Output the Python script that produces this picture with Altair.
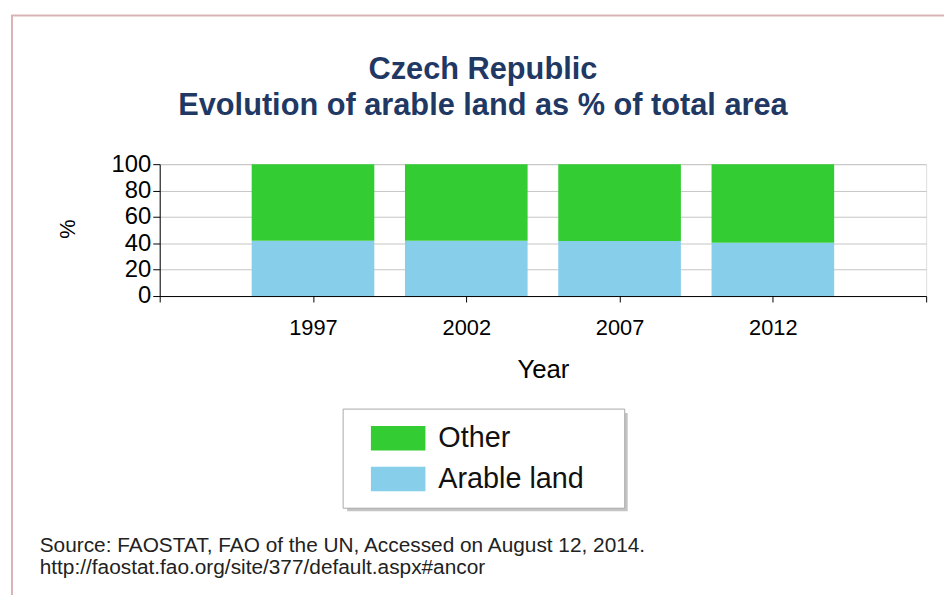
import altair as alt
import pandas as pd

years = [1997, 2002, 2007, 2012]
arable = [42.0, 42.0, 41.7, 40.5]
other = [58.0, 58.0, 58.3, 59.5]
series = ["Other", "Arable land"]
colors = ["#33CC33", "#87CEEB"]
x_ticks = [1992, 1997, 2002, 2007, 2012, 2017]
y_ticks = [0, 20, 40, 60, 80, 100]
title_lines = ["Czech Republic", "Evolution of arable land as % of total area"]
source_lines = ["Source: FAOSTAT, FAO of the UN, Accessed on August 12, 2014.",
                "http://faostat.fao.org/site/377/default.aspx#ancor"]

rows = []
for yr, a, o in zip(years, arable, other):
    rows.append({"Year": yr, "Series": "Arable land", "lo": 0, "hi": a, "ord": 0})
    rows.append({"Year": yr, "Series": "Other", "lo": a, "hi": a + o, "ord": 1})
df = pd.DataFrame(rows)

FONT = "Liberation Sans"

bars = alt.Chart(df).transform_calculate(
    x0="datum.Year - 2", x1="datum.Year + 2"
).mark_bar().encode(
    x=alt.X("x0:Q", scale=alt.Scale(domain=[1992, 2017], nice=False, zero=False),
            axis=alt.Axis(values=x_ticks, title="Year", grid=False,
                          labelExpr="(datum.value == 1992 || datum.value == 2017) ? '' : datum.value",
                          labelFontSize=22, titleFontSize=26, tickSize=6, labelPadding=16,
                          titlePadding=18, titleFontWeight="normal",
                          domainColor="#000", tickColor="#000", labelColor="#000", titleColor="#000",
                          labelFont=FONT, titleFont=FONT, format="d")),
    x2="x1:Q",
    y=alt.Y("lo:Q", scale=alt.Scale(domain=[0, 100], nice=False),
            axis=alt.Axis(values=y_ticks, title="%", grid=True, gridColor="#c4c4c4",
                          labelFontSize=24, titleFontSize=22, tickSize=7, labelPadding=2,
                          titleFontWeight="normal", titleX=-93, titleY=65, titleAngle=-90,
                          titleBaseline="middle", titleAlign="center",
                          domainColor="#000", tickColor="#000", labelColor="#000", titleColor="#000",
                          labelFont=FONT, titleFont=FONT)),
    y2="hi:Q",
    color=alt.Color("Series:N", scale=alt.Scale(domain=series, range=colors),
                    legend=alt.Legend(title=None, orient="none", legendX=188, legendY=247,
                                      symbolType="M-2,-0.9H2V0.9H-2Z", symbolSize=756,
                                      symbolStrokeWidth=0, labelFontSize=29, labelFont=FONT,
                                      labelColor="#111", padding=15, rowPadding=11,
                                      symbolOffset=23, labelOffset=26,
                                      strokeColor="transparent", fillColor="transparent",
                                      labelLimit=400)),
    order="ord:Q",
)

tdf = pd.DataFrame({"line": title_lines, "i": [0, 1]})
title = alt.Chart(tdf).mark_text(align="center", baseline="middle", fontSize=31, font=FONT,
                                 fontWeight="bold", color="#1f3864").encode(
    x=alt.value(326),
    y=alt.Y("i:Q", scale=alt.Scale(domain=[0, 1], range=[-95, -59]), axis=None),
    text="line:N",
)

src = pd.DataFrame({"line": source_lines, "i": [0, 1]})
source = alt.Chart(src).mark_text(align="left", baseline="middle", fontSize=21, font=FONT,
                                  color="#222222").encode(
    x=alt.value(-121),
    y=alt.Y("i:Q", scale=alt.Scale(domain=[0, 1], range=[385, 407]), axis=None),
    text="line:N",
)

deco = pd.DataFrame({"a": [0]})
border = alt.Chart(deco).mark_rect(fill=None, stroke="#d9b3b3", strokeWidth=2).encode(
    x=alt.value(-149), x2=alt.value(900), y=alt.value(-150), y2=alt.value(900))
shadow = alt.Chart(deco).mark_rect(fill="#c4c4c4").encode(
    x=alt.value(189), x2=alt.value(472), y=alt.value(251), y2=alt.value(350))
legend_box = alt.Chart(deco).mark_rect(fill="#ffffff", stroke="#a8a8a8", strokeWidth=1).encode(
    x=alt.value(185), x2=alt.value(469), y=alt.value(247), y2=alt.value(347))

chart = alt.layer(border, shadow, legend_box, bars, title, source).resolve_scale(
    y="independent").properties(
    width=773, height=133,
    autosize=alt.AutoSizeParams(type="none"),
    padding={"left": 153, "top": 155, "right": 18, "bottom": 299},
).configure_view(stroke="#000", strokeWidth=1).configure(background="#ffffff")

chart.save("out.html", embed_options={"renderer": "svg", "actions": False})
